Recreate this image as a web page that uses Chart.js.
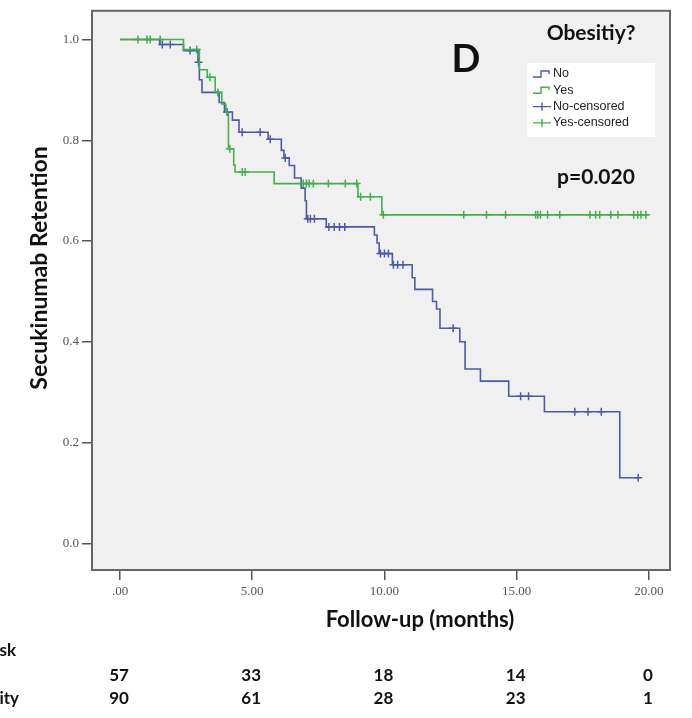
<!DOCTYPE html>
<html>
<head>
<meta charset="utf-8">
<script src="https://cdn.jsdelivr.net/npm/chart.js@4.4.0/dist/chart.umd.min.js"></script>
<style>
  html, body { margin: 0; padding: 0; background: #fff; }
  #wrap { width: 692px; height: 718px; }
</style>
</head>
<body>
<div id="wrap"><canvas id="km" width="692" height="718"></canvas></div>
<script>
// Kaplan-Meier steps: time (months) where the curve drops, and the retention after that drop
const noTimes  = [0, 1.5, 2.4, 2.95, 3.0, 3.1, 3.75, 3.95, 4.25, 4.5, 5.6, 6.1, 6.2, 6.4, 6.6, 6.85, 7.0, 7.05, 7.8, 9.62, 9.72, 9.8, 10.3, 11.05, 11.15, 11.82, 11.97, 12.1, 12.85, 13.05, 13.63, 14.7, 16.05, 18.9, 19.6];
const noSurv   = [1.0, 0.99, 0.978, 0.955, 0.92, 0.895, 0.875, 0.856, 0.84, 0.816, 0.802, 0.78, 0.765, 0.75, 0.725, 0.705, 0.68, 0.644, 0.628, 0.612, 0.596, 0.575, 0.553, 0.527, 0.504, 0.48, 0.465, 0.427, 0.40, 0.346, 0.322, 0.292, 0.261, 0.130, 0.130];
const yesTimes = [0, 2.4, 3.0, 3.3, 3.6, 3.85, 4.0, 4.1, 4.3, 4.35, 5.83, 9.0, 9.9, 20.0];
const yesSurv  = [1.0, 0.98, 0.94, 0.925, 0.895, 0.872, 0.856, 0.783, 0.751, 0.737, 0.714, 0.688, 0.652, 0.652];

// censored observations (months)
const noCensored  = [1.6, 1.9, 2.65, 2.97, 4.05, 4.62, 5.3, 5.68, 6.25, 7.1, 7.2, 7.35, 7.9, 8.1, 8.3, 8.5, 9.85, 10.0, 10.15, 10.34, 10.5, 10.7, 12.6, 15.15, 15.45, 17.2, 17.7, 18.2, 19.6];
const yesCensored = [0.68, 1.02, 1.14, 1.52, 2.9, 3.4, 3.7, 4.15, 4.62, 4.73, 6.93, 7.05, 7.15, 7.31, 7.88, 8.52, 8.95, 9.1, 9.47, 9.96, 13.0, 13.86, 14.58, 15.72, 15.8, 15.9, 16.17, 16.63, 17.77, 17.99, 18.14, 18.56, 18.83, 19.43, 19.58, 19.7, 19.89];

// axes
const xTickValues = [0, 5, 10, 15, 20];
const xTickLabels = ['.00', '5.00', '10.00', '15.00', '20.00'];
const yTickValues = [0, 0.2, 0.4, 0.6, 0.8, 1.0];
const yTickLabels = ['0.0', '0.2', '0.4', '0.6', '0.8', '1.0'];
const xTitle = 'Follow-up (months)';
const yTitle = 'Secukinumab Retention';

// number at risk table
const riskTitle = 'Number at risk';
const riskRowLabels = ['Obese', 'Non-obesity'];
const riskRow1 = [57, 33, 18, 14, 0];
const riskRow2 = [90, 61, 28, 23, 1];

const BLUE = '#4d5aa8';
const GREEN = '#42b04c';
const BOLD = 'Lato, "Open Sans", sans-serif';

function stepPoints(times, surv) {
    return times.map((t, i) => ({ x: t, y: surv[i] }));
}

// place a censor mark on its curve
function censorPoints(cens, times, surv) {
    return cens.map(t => {
        let s = surv[0];
        for (let i = 0; i < times.length; i++) {
            if (times[i] <= t) s = surv[i];
        }
        return { x: t, y: s };
    });
}

const framePlugin = {
    id: 'frame',
    beforeDraw(chart) {
        const { ctx, chartArea: a } = chart;
        ctx.save();
        ctx.fillStyle = '#f0f0f0';
        ctx.fillRect(a.left, a.top, a.right - a.left, a.bottom - a.top);
        ctx.restore();
    },
    afterDatasetsDraw(chart) {
        const { ctx, chartArea: a } = chart;
        ctx.save();
        ctx.strokeStyle = '#666';
        ctx.lineWidth = 2;
        ctx.strokeRect(a.left, a.top, a.right - a.left, a.bottom - a.top);
        ctx.restore();
    }
};

const notesPlugin = {
    id: 'notes',
    afterDraw(chart) {
        const ctx = chart.ctx;
        const xs = chart.scales.x;
        ctx.save();
        ctx.fillStyle = '#111';
        ctx.textBaseline = 'middle';
        ctx.textAlign = 'center';

        // axis titles
        ctx.font = 'bold 22px ' + BOLD;
        ctx.fillText(xTitle, 420, 620);
        ctx.save();
        ctx.translate(40, 268);
        ctx.rotate(-Math.PI / 2);
        ctx.font = 'bold 23px ' + BOLD;
        ctx.fillText(yTitle, 0, 0);
        ctx.restore();

        // panel letter, title and p value
        ctx.font = 'bold 38px ' + BOLD;
        ctx.fillText('D', 466, 60);
        ctx.font = 'bold 21px ' + BOLD;
        ctx.fillText('Obesitiy?', 591, 33);
        ctx.fillText('p=0.020', 596, 177);

        // legend box
        ctx.fillStyle = '#fff';
        ctx.fillRect(527, 63, 128, 74);
        const items = [
            { text: 'No', color: BLUE, kind: 'step' },
            { text: 'Yes', color: GREEN, kind: 'step' },
            { text: 'No-censored', color: BLUE, kind: 'cross' },
            { text: 'Yes-censored', color: GREEN, kind: 'cross' }
        ];
        ctx.font = '12.5px "Liberation Sans", Arial, sans-serif';
        ctx.textAlign = 'left';
        items.forEach((it, i) => {
            const y = 74 + i * 16.3;
            ctx.strokeStyle = it.color;
            ctx.lineWidth = 1.4;
            ctx.beginPath();
            if (it.kind === 'step') {
                ctx.moveTo(533, y + 3);
                ctx.lineTo(541, y + 3);
                ctx.lineTo(541, y - 3);
                ctx.lineTo(549, y - 3);
                ctx.lineTo(549, y);
            } else {
                ctx.moveTo(533, y);
                ctx.lineTo(551, y);
                ctx.moveTo(542, y - 4);
                ctx.lineTo(542, y + 4);
            }
            ctx.stroke();
            ctx.fillStyle = '#222';
            ctx.fillText(it.text, 553, y);
        });

        // number at risk table (labels run off the left edge, as in the source figure)
        ctx.font = 'bold 17px ' + BOLD;
        ctx.fillStyle = '#111';
        ctx.textAlign = 'right';
        ctx.fillText(riskTitle, 16, 651);
        ctx.fillText(riskRowLabels[0], -6, 676);
        ctx.fillText(riskRowLabels[1], 19, 699);
        ctx.textAlign = 'center';
        xTickValues.forEach((v, i) => {
            const px = xs.getPixelForValue(v);
            ctx.fillText(String(riskRow1[i]), px - 1, 676);
            ctx.fillText(String(riskRow2[i]), px - 1, 699);
        });
        ctx.restore();
    }
};

const tickFont = { family: '"Liberation Serif", "DejaVu Serif", serif', size: 13 };

new Chart(document.getElementById('km'), {
    type: 'scatter',
    data: {
        datasets: [
            {
                label: 'Yes',
                data: stepPoints(yesTimes, yesSurv),
                showLine: true,
                stepped: true,
                borderColor: GREEN,
                borderWidth: 1.6,
                pointRadius: 0
            },
            {
                label: 'No',
                data: stepPoints(noTimes, noSurv),
                showLine: true,
                stepped: true,
                borderColor: BLUE,
                borderWidth: 1.6,
                pointRadius: 0
            },
            {
                label: 'Yes-censored',
                data: censorPoints(yesCensored, yesTimes, yesSurv),
                pointStyle: 'cross',
                pointRadius: 4,
                borderColor: GREEN,
                borderWidth: 1.5
            },
            {
                label: 'No-censored',
                data: censorPoints(noCensored, noTimes, noSurv),
                pointStyle: 'cross',
                pointRadius: 4,
                borderColor: BLUE,
                borderWidth: 1.5
            }
        ]
    },
    options: {
        responsive: false,
        animation: false,
        devicePixelRatio: 1,
        layout: { padding: { left: 0, top: 8, right: 22, bottom: 0 } },
        plugins: {
            legend: { display: false },
            tooltip: { enabled: false }
        },
        scales: {
            x: {
                type: 'linear',
                min: -1.06,
                max: 20.8,
                afterFit: s => { s.height = 148; },
                afterBuildTicks: s => { s.ticks = xTickValues.map(v => ({ value: v })); },
                ticks: {
                    callback: (v) => xTickLabels[xTickValues.indexOf(v)],
                    color: '#555',
                    font: tickFont,
                    padding: 4,
                    maxRotation: 0
                },
                grid: { drawOnChartArea: false, drawTicks: true, tickLength: 10, color: '#555', lineWidth: 1.5 },
                border: { display: false }
            },
            y: {
                type: 'linear',
                min: -0.053,
                max: 1.057,
                afterFit: s => { s.width = 92; },
                afterBuildTicks: s => { s.ticks = yTickValues.map(v => ({ value: v })); },
                ticks: {
                    callback: (v) => yTickLabels[yTickValues.indexOf(v)],
                    color: '#555',
                    font: tickFont,
                    padding: 3
                },
                grid: { drawOnChartArea: false, drawTicks: true, tickLength: 10, color: '#555', lineWidth: 1.5 },
                border: { display: false }
            }
        }
    },
    plugins: [framePlugin, notesPlugin]
});
</script>
</body>
</html>
